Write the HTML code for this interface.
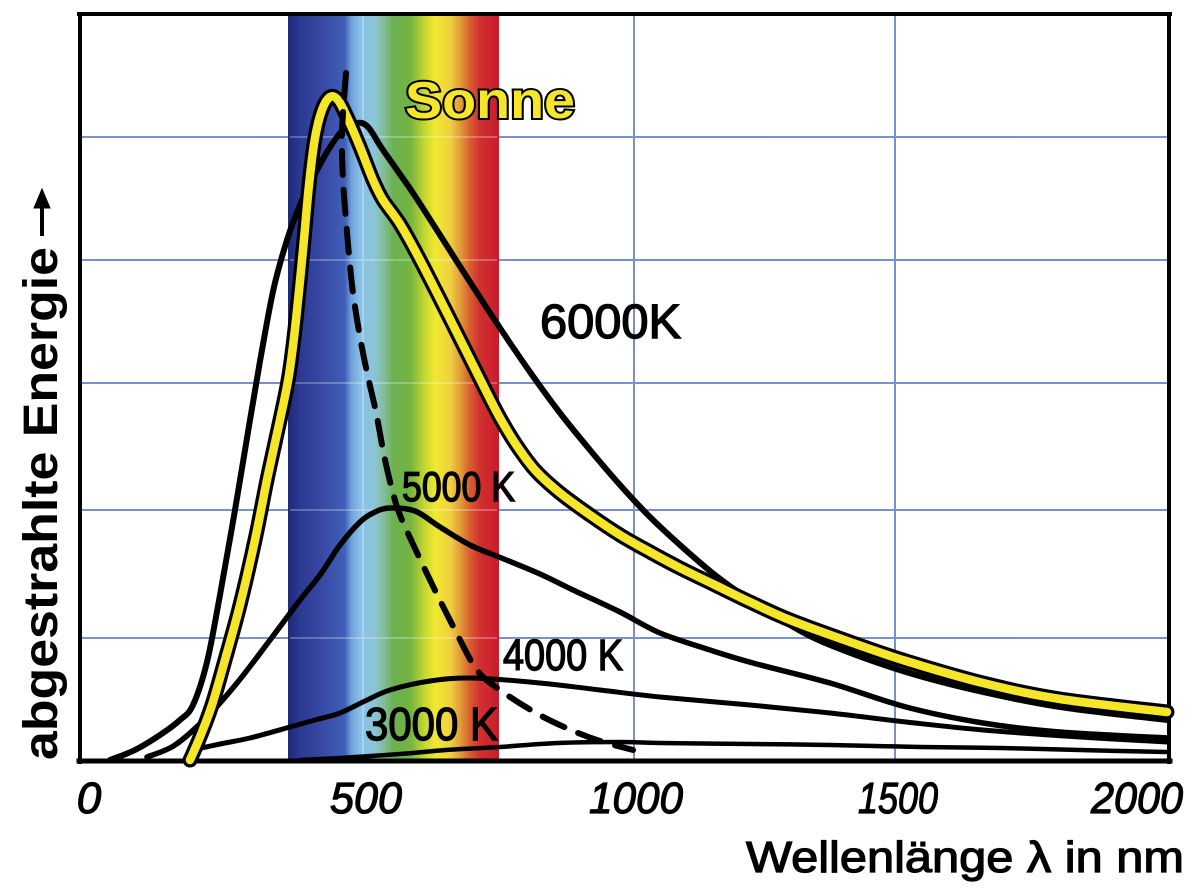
<!DOCTYPE html>
<html>
<head>
<meta charset="utf-8">
<style>
  html,body{margin:0;padding:0;background:#fff;}
  svg{display:block;}
  text{font-family:"Liberation Sans",sans-serif;}
</style>
</head>
<body>
<svg id="chart" width="1195" height="896" viewBox="0 0 1195 896" xmlns="http://www.w3.org/2000/svg">
  <defs>
    <linearGradient id="spec" x1="288" y1="0" x2="499" y2="0" gradientUnits="userSpaceOnUse">
      <stop offset="0" stop-color="#1e2878"/>
      <stop offset="0.06" stop-color="#2c3a92"/>
      <stop offset="0.15" stop-color="#3746a2"/>
      <stop offset="0.27" stop-color="#4060b8"/>
      <stop offset="0.30" stop-color="#6fa0d8"/>
      <stop offset="0.34" stop-color="#88c0e8"/>
      <stop offset="0.41" stop-color="#8cc4d8"/>
      <stop offset="0.46" stop-color="#80bc90"/>
      <stop offset="0.50" stop-color="#6cb050"/>
      <stop offset="0.58" stop-color="#74b440"/>
      <stop offset="0.65" stop-color="#c8d830"/>
      <stop offset="0.70" stop-color="#f0e830"/>
      <stop offset="0.77" stop-color="#f0d040"/>
      <stop offset="0.82" stop-color="#e09838"/>
      <stop offset="0.86" stop-color="#d86030"/>
      <stop offset="0.91" stop-color="#d03030"/>
      <stop offset="1" stop-color="#c81c2c"/>
    </linearGradient>
  </defs>

  <rect width="1195" height="896" fill="#fff"/>

  <!-- grid -->
  <g stroke="#4d6cc0" stroke-width="2" opacity="0.75" fill="none">
    <line x1="82" y1="137" x2="1168" y2="137"/>
    <line x1="82" y1="260" x2="1168" y2="260"/>
    <line x1="82" y1="383" x2="1168" y2="383"/>
    <line x1="82" y1="510" x2="1168" y2="510"/>
    <line x1="82" y1="638" x2="1168" y2="638"/>
    <line x1="363" y1="16" x2="363" y2="760"/>
    <line x1="634" y1="16" x2="634" y2="760"/>
    <line x1="895" y1="16" x2="895" y2="760"/>
  </g>

  <!-- spectrum band -->
  <rect x="288" y="16" width="211" height="744" fill="url(#spec)"/>
  <g stroke="#ffffff" stroke-width="1.5" opacity="0.35">
    <line x1="290" y1="137" x2="497" y2="137"/>
    <line x1="290" y1="260" x2="497" y2="260"/>
    <line x1="290" y1="383" x2="497" y2="383"/>
    <line x1="290" y1="510" x2="497" y2="510"/>
    <line x1="290" y1="638" x2="497" y2="638"/>
    <line x1="363" y1="16" x2="363" y2="760"/>
  </g>

  <!-- frame -->
  <g stroke="#000" fill="none" stroke-linecap="square">
    <line x1="79" y1="14" x2="1170" y2="14" stroke-width="4"/>
    <line x1="80" y1="14" x2="80" y2="762" stroke-width="4"/>
    <line x1="1169" y1="14" x2="1169" y2="762" stroke-width="4"/>
    <line x1="79" y1="761" x2="1170" y2="761" stroke-width="5"/>
  </g>

  <!-- curves -->
  <g fill="none" stroke="#000" stroke-linecap="round" stroke-linejoin="round">
    <!-- 3000K -->
    <polyline class="sm" stroke-width="4.5" points="300,760 340,758 400,754 446,750 500,747 558,743 620,742 660,743 750,744 830,745 920,747 1000,748 1080,750 1167,752"/>
    <!-- 4000K -->
    <polyline class="sm" stroke-width="5" points="192,750 220,744 250,738 290,727 315,720 340,713 365,701 390,690 430,681 473,678 540,683 600,690 660,697 750,705 830,713 906,722 983,730 1080,737 1167,742"/>
    <!-- 5000K -->
    <polyline class="sm" stroke-width="5.5" points="147,757 175,745 207,717 237,683 270,640 300,600 320,575 340,545 360,522 375,512 390,508 415,511 440,527 470,545 499,557 540,574 573,590 620,612 660,633 710,650 753,663 830,683 906,707 983,723 1060,732 1167,738"/>
    <!-- 6000K -->
    <polyline class="sm" stroke-width="6" points="110,760 135,750 160,735 180,720 193,705 207,662 220,595 235,510 250,420 262,350 274,287 287,240 300,205 313,178 327,152 342,131 357,123 368,127 381,147 397,170 413,193 440,235 470,282 500,328 530,372 560,413 590,450 620,485 650,517 680,545 715,575 750,600 790,625 830,645 906,672 983,692 1060,707 1167,720"/>
  </g>

  <!-- Sun curve -->
  <g fill="none" stroke-linecap="round" stroke-linejoin="round">
    <polyline class="sm" stroke="#000" stroke-width="15" points="190,760 200,737 212,705 225,660 240,605 255,540 268,475 280,420 289,375 296,320 303,250 309,185 315,138 322,110 330,97 338,100 347,117 360,147 373,180 383,200 400,224 420,260 447,313 467,353 487,393 500,418 515,443 535,470 560,493 590,515 620,535 650,552 680,568 715,585 750,602 790,620 850,642 906,661 983,683 1060,699 1167,712"/>
    <polyline class="sm" stroke="#f5e62a" stroke-width="8.5" points="190,760 200,737 212,705 225,660 240,605 255,540 268,475 280,420 289,375 296,320 303,250 309,185 315,138 322,110 330,97 338,100 347,117 360,147 373,180 383,200 400,224 420,260 447,313 467,353 487,393 500,418 515,443 535,470 560,493 590,515 620,535 650,552 680,568 715,585 750,602 790,620 850,642 906,661 983,683 1060,699 1167,712"/>
  </g>

  <!-- dashed Wien line -->
  <polyline class="sm" fill="none" stroke="#000" stroke-width="6" stroke-linecap="round" stroke-dasharray="24 15" points="346,73 342,133 343,180 346,220 349,255 353,293 360,337 368,377 376,412 384,455 393,493 402,520 430,580 455,630 477,670 500,690 536,713 571,730 600,741 633,750"/>

  <!-- Sonne label -->
  <text x="405" y="118" font-size="52" font-weight="bold" fill="#f5e62a" stroke="#000" stroke-width="4" paint-order="stroke" textLength="170" lengthAdjust="spacingAndGlyphs">Sonne</text>

  <!-- temperature labels -->
  <g fill="#000" stroke="#000" stroke-width="1.4">
    <text x="540" y="338" font-size="48" textLength="141" lengthAdjust="spacingAndGlyphs">6000K</text>
    <text x="402" y="501" font-size="42" textLength="113" lengthAdjust="spacingAndGlyphs">5000 K</text>
    <text x="503" y="670" font-size="44" textLength="120" lengthAdjust="spacingAndGlyphs">4000 K</text>
    <text x="365" y="740" font-size="46" textLength="133" lengthAdjust="spacingAndGlyphs">3000 K</text>
  </g>

  <!-- tick labels -->
  <g fill="#000" stroke="#000" stroke-width="1.2" font-size="44" font-style="italic">
    <text x="89" y="813" text-anchor="middle">0</text>
    <text x="330" y="813" textLength="72" lengthAdjust="spacingAndGlyphs">500</text>
    <text x="589" y="813" textLength="94" lengthAdjust="spacingAndGlyphs">1000</text>
    <text x="858" y="813" textLength="80" lengthAdjust="spacingAndGlyphs">1500</text>
    <text x="1091" y="813" textLength="92" lengthAdjust="spacingAndGlyphs">2000</text>
  </g>

  <!-- x-axis title -->
  <text x="746" y="872" font-size="44" fill="#000" stroke="#000" stroke-width="1.2" textLength="438" lengthAdjust="spacingAndGlyphs">Wellenlänge λ  in nm</text>

  <!-- y-axis title -->
  <text transform="translate(57,760) rotate(-90)" x="0" y="0" font-size="48" font-weight="bold" fill="#000" textLength="513" lengthAdjust="spacingAndGlyphs">abgestrahlte Energie</text>
  <g stroke="#000" fill="#000">
    <line x1="42" y1="236" x2="42" y2="205" stroke-width="4"/>
    <polygon points="42,189 34,208 50,208" stroke-width="1"/>
  </g>
</svg>
<script>
(function(){
  var NS="http://www.w3.org/2000/svg";
  var lines=document.querySelectorAll("polyline.sm");
  for(var i=0;i<lines.length;i++){
    var pl=lines[i];
    var raw=pl.getAttribute("points").trim().split(/\s+/);
    var p=raw.map(function(s){var a=s.split(",");return [parseFloat(a[0]),parseFloat(a[1])];});
    if(p.length<3) continue;
    var d="M"+p[0][0]+","+p[0][1];
    for(var k=0;k<p.length-1;k++){
      var p0=p[k>0?k-1:0],p1=p[k],p2=p[k+1],p3=p[k+2<p.length?k+2:p.length-1];
      var c1x=p1[0]+(p2[0]-p0[0])/6,c1y=p1[1]+(p2[1]-p0[1])/6;
      var c2x=p2[0]-(p3[0]-p1[0])/6,c2y=p2[1]-(p3[1]-p1[1])/6;
      d+=" C"+c1x.toFixed(1)+","+c1y.toFixed(1)+" "+c2x.toFixed(1)+","+c2y.toFixed(1)+" "+p2[0]+","+p2[1];
    }
    var path=document.createElementNS(NS,"path");
    for(var j=0;j<pl.attributes.length;j++){
      var at=pl.attributes[j];
      if(at.name!=="points" && at.name!=="class") path.setAttribute(at.name,at.value);
    }
    path.setAttribute("d",d);
    pl.parentNode.replaceChild(path,pl);
  }
})();
</script>
</body>
</html>
